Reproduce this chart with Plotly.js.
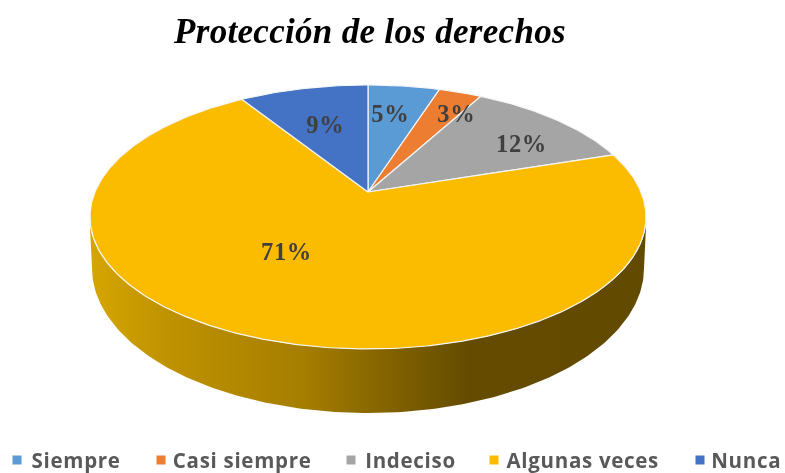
<!DOCTYPE html>
<html>
<head>
<meta charset="utf-8">
<script src="https://cdn.plot.ly/plotly-3.0.1.min.js"></script>
<style>
html,body{margin:0;padding:0;background:#fff;overflow:hidden}
#chart{width:785px;height:473px;filter:blur(0.45px)}
#chart .annotation-text{letter-spacing:.7px}
#chart .gtitle{letter-spacing:.3px}
</style>
</head>
<body>
<div id="chart"></div>
<script>
const categories = ["Siempre", "Casi siempre", "Indeciso", "Algunas veces", "Nunca"];
const values = [5, 3, 12, 71, 9];
const colors = ["#5B9BD5", "#ED7D31", "#A5A5A5", "#FBBC00", "#4472C4"];

// Value labels: where each one sits on the page
const labelX = [390, 456, 521, 286, 325];
const labelY = [113, 113, 143, 251, 124];

// Legend layout
const legendMarkerX = [17, 161, 351, 494, 700];
const legendTextX = [30, 173, 364, 507, 709];
const legendY = 460;

// Tilted-disc projection
const apex = {x: 368, y: 192};
const persp = 0.189, scaleX = 273, scaleY = 127.3;
function project(theta) {
  const u = Math.sin(theta), v = Math.cos(theta), d = 1 + persp * v;
  return [apex.x + scaleX * u / d, apex.y - scaleY * v / d];
}
const total = values.reduce((a, b) => a + b, 0);

function wedge(start, end) {
  const xs = [apex.x], ys = [apex.y];
  const steps = Math.max(4, Math.ceil((end - start) * 90));
  for (let i = 0; i <= steps; i++) {
    const p = project(start + (end - start) * i / steps);
    xs.push(p[0]); ys.push(p[1]);
  }
  xs.push(apex.x); ys.push(apex.y);
  return [xs, ys];
}

// Side wall of the disc
const rim = {cx: 368, cy: 217, rx: 278.5, ry: 132};
const base = {cx: 368, cy: 268, rx: 276, ry: 145};
const wallX = [], wallY = [];
for (let i = 0; i <= 180; i++) {
  const a = Math.PI * i / 180;
  wallX.push(rim.cx + rim.rx * Math.cos(a)); wallY.push(rim.cy + rim.ry * Math.sin(a));
}
for (let i = 180; i >= 0; i--) {
  const a = Math.PI * i / 180;
  wallX.push(base.cx + base.rx * Math.cos(a)); wallY.push(base.cy + base.ry * Math.sin(a));
}
const traces = [{
  type: "scatter", mode: "lines", x: wallX, y: wallY, fill: "toself",
  line: {width: 0, color: "rgba(0,0,0,0)"},
  fillgradient: {
    type: "horizontal",
    colorscale: [[0, "#D6A600"], [0.14, "#BF9200"], [0.38, "#A67E00"], [0.5, "#8A6900"], [0.68, "#644B00"], [1, "#624A00"]]
  },
  hoverinfo: "skip", showlegend: false
}];

let acc = 0;
values.forEach((v, i) => {
  const s = acc / total * 2 * Math.PI;
  acc += v;
  const e = acc / total * 2 * Math.PI;
  const w = wedge(s, e);
  traces.push({
    type: "scatter", mode: "lines", x: w[0], y: w[1], fill: "toself",
    fillcolor: colors[i], line: {color: "#F4F6F8", width: 1.2},
    name: categories[i], text: v + "%", hoverinfo: "name+text", showlegend: false
  });
});

traces.push({
  type: "scatter", mode: "markers", x: legendMarkerX, y: categories.map(() => legendY),
  marker: {symbol: "square", size: 9, color: colors}, hoverinfo: "skip", showlegend: false
});

const annotations = [];
values.forEach((v, i) => annotations.push({
  x: labelX[i], y: labelY[i], xref: "x", yref: "y", showarrow: false, text: v + "%",
  font: {family: "Liberation Serif", size: 24.5, color: "#404040", weight: "bold"}
}));
categories.forEach((c, i) => annotations.push({
  x: legendTextX[i], y: legendY, xref: "x", yref: "y", xanchor: "left", showarrow: false, text: c,
  xshift: 2,
  font: {family: "Open Sans", size: 20.5, color: "#595959", weight: "bold"}
}));

const layout = {
  width: 785, height: 473,
  margin: {l: 0, r: 0, t: 0, b: 0},
  paper_bgcolor: "#fff", plot_bgcolor: "#fff",
  title: {
    text: "Protección de los derechos",
    x: 370 / 785, xanchor: "center", y: 1 - 31 / 473, yanchor: "middle",
    font: {family: "Liberation Serif", size: 35, color: "#000", weight: "bold", style: "italic"}
  },
  xaxis: {range: [0, 785], visible: false, fixedrange: true},
  yaxis: {range: [473, 0], visible: false, fixedrange: true},
  showlegend: false,
  annotations: annotations
};
Plotly.newPlot("chart", traces, layout, {displayModeBar: false, responsive: false});
</script>
</body>
</html>
